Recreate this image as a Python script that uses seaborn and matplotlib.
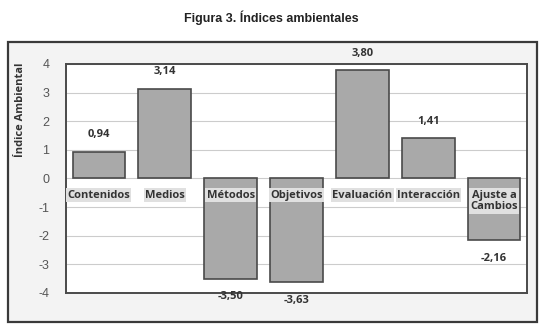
import numpy as np
import pandas as pd
import matplotlib
matplotlib.use("Agg")
import matplotlib.pyplot as plt
from matplotlib.patches import Rectangle
import seaborn as sns

categorias = ["Contenidos", "Medios", "Métodos", "Objetivos", "Evaluación", "Interacción", "Ajuste a\nCambios"]
valores = [0.94, 3.14, -3.50, -3.63, 3.80, 1.41, -2.16]
yticks = [4, 3, 2, 1, 0, -1, -2, -3, -4]

sns.set_style("white")
plt.rcParams["font.family"] = ["Liberation Sans", "DejaVu Sans"]

df = pd.DataFrame({"cat": categorias, "val": valores})

fig = plt.figure(figsize=(5.43, 3.34), dpi=100)
fig.patch.set_facecolor("white")

# outer chart frame
frame = Rectangle((0.0147, 0.036), 0.974, 0.838, transform=fig.transFigure,
                  facecolor="#f3f3f3", edgecolor="#3a3a3a", linewidth=1.6, zorder=-5)
fig.add_artist(frame)

fig.text(0.5, 0.946, "Figura 3. Índices ambientales", ha="center", va="center",
         fontsize=9, fontweight="bold", color="#222222")

ax = fig.add_axes([0.1215, 0.1228, 0.849, 0.6856])
ax.set_zorder(2)
ax.set_facecolor("white")
sns.barplot(data=df, x="cat", y="val", color="#a9a9a9", edgecolor="#4a4a4a",
            linewidth=1.2, width=0.8, saturation=1, ax=ax, zorder=3)

ax.set_ylim(-4, 4)
ax.set_yticks(yticks)
ax.set_yticklabels([str(t) for t in yticks], color="#555555", fontsize=9)
ax.tick_params(axis="y", length=0, pad=12)
ax.set_xticks([])
ax.set_xlabel("")
ax.set_ylabel("")
ax.grid(axis="y", color="#cccccc", linewidth=0.8, zorder=0)
ax.set_axisbelow(True)
for s in ax.spines.values():
    s.set_color("#4a4a4a")
    s.set_linewidth(1.4)

fig.text(0.037, 0.67, "Índice Ambiental", rotation=90, ha="center", va="center",
         fontsize=8, fontweight="bold", color="#333333", family=["Open Sans", "DejaVu Sans"])

for i, (c, v) in enumerate(zip(categorias, valores)):
    off = 12 if v > 0 else -13
    ax.annotate(f"{v:.2f}".replace(".", ","), (i, v), xytext=(0, off), textcoords="offset points",
                ha="center", va="center", fontsize=8, fontweight="bold", color="#333333",
                family=["Open Sans", "DejaVu Sans"], annotation_clip=False)
    ax.annotate(c, (i, 0), xytext=(0, -8), textcoords="offset points", ha="center", va="top",
                fontsize=8, fontweight="bold", color="#333333", linespacing=1.1,
                family=["Open Sans", "DejaVu Sans"], zorder=5,
                bbox=dict(boxstyle="square,pad=0.1", facecolor="#e0e0e0", edgecolor="none"))

fig.savefig("out.png", dpi=100)
